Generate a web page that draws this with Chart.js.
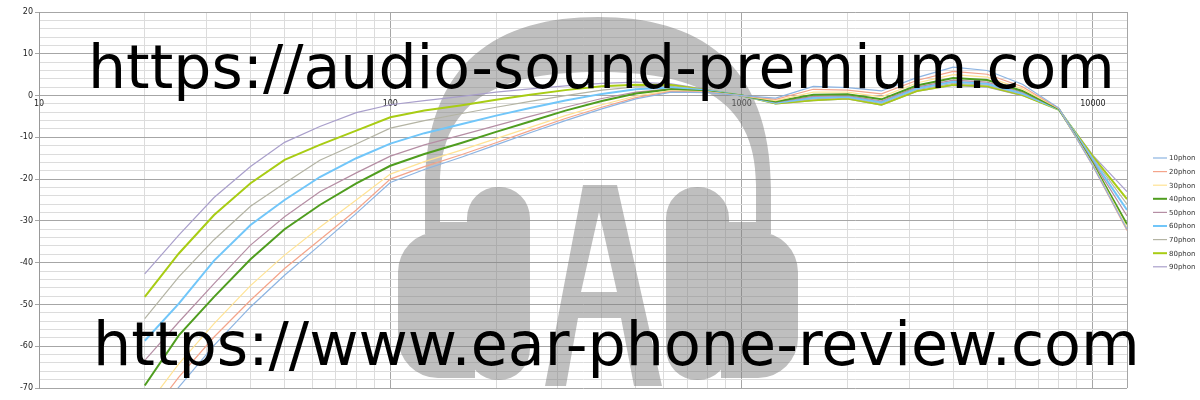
<!DOCTYPE html>
<html>
<head>
<meta charset="utf-8">
<title>phon curves</title>
<script src="https://cdn.jsdelivr.net/npm/chart.js@4.4.1/dist/chart.umd.min.js"></script>
<style>
  html, body { margin: 0; padding: 0; background: #ffffff; overflow: hidden; }
  canvas { display: block; }
</style>
</head>
<body>
<canvas id="chart" width="1200" height="400"></canvas>
<script>
// Fréquences (Hz), tiers d'octave
const frequencies = [20, 25, 31.5, 40, 50, 63, 80, 100, 125, 160, 200, 250, 315, 400, 500, 630, 800,
    1000, 1250, 1600, 2000, 2500, 3150, 4000, 5000, 6300, 8000, 10000, 12500];

// Valeurs (dB)
const phon10 = [-80.0, -69.8, -59.8, -50.6, -43.0, -35.8, -28.2, -20.8, -17.7, -14.7, -11.8, -8.9, -6.0, -3.2, -0.8, 0.8, 0.7,
    0.0, -0.6, 2.2, 1.9, 1.1, 4.3, 6.8, 6.0, 2.7, -3.0, -16.8, -32.0];
const phon20 = [-78.0, -67.4, -57.8, -49.0, -41.4, -34.5, -27.4, -20.0, -17.0, -14.1, -11.3, -8.4, -5.5, -2.8, -0.5, 1.0, 0.8,
    0.0, -0.9, 1.5, 1.3, 0.4, 3.6, 5.8, 5.1, 2.1, -3.1, -16.9, -32.3];
const phon30 = [-75.0, -64.2, -54.6, -45.5, -38.2, -31.5, -25.0, -18.8, -15.8, -13.0, -10.3, -7.6, -4.8, -2.2, -0.1, 1.2, 0.9,
    0.0, -1.2, 0.8, 0.8, -0.3, 3.0, 5.0, 4.4, 1.6, -3.1, -16.6, -31.6];
const phon40 = [-69.4, -57.4, -48.2, -39.2, -32.0, -26.2, -21.0, -16.8, -14.0, -11.3, -8.7, -6.2, -3.6, -1.3, 0.5, 1.5, 1.0,
    0.0, -1.4, 0.2, 0.3, -0.9, 2.4, 4.2, 3.7, 1.1, -3.2, -16.3, -30.8];
const phon50 = [-63.4, -54.2, -45.0, -35.8, -29.0, -23.0, -18.5, -14.5, -11.8, -9.4, -7.2, -5.0, -2.8, -0.7, 0.8, 1.6, 1.0,
    0.0, -1.6, -0.2, 0.0, -1.3, 2.0, 3.7, 3.2, 0.8, -3.2, -15.8, -28.8];
const phon60 = [-58.7, -49.8, -39.5, -31.0, -25.0, -19.5, -15.0, -11.5, -9.0, -6.8, -4.8, -3.0, -1.2, 0.4, 1.5, 1.9, 1.2,
    0.0, -1.7, -0.5, -0.3, -1.6, 1.7, 3.3, 2.8, 0.5, -3.3, -15.4, -27.4];
const phon70 = [-53.4, -43.4, -34.5, -26.5, -21.0, -15.5, -11.6, -7.8, -6.0, -4.3, -2.8, -1.4, 0.0, 1.3, 2.1, 2.2, 1.3,
    0.0, -1.8, -0.8, -0.5, -1.9, 1.4, 2.9, 2.5, 0.3, -3.3, -15.0, -26.0];
const phon80 = [-48.2, -37.8, -28.6, -21.0, -15.4, -11.8, -8.4, -5.2, -3.6, -2.3, -1.0, 0.2, 1.3, 2.2, 2.6, 2.5, 1.3,
    0.0, -1.9, -1.1, -0.7, -2.2, 1.1, 2.6, 2.2, 0.1, -3.4, -14.6, -24.8];
const phon90 = [-42.7, -33.4, -24.4, -17.0, -11.2, -7.4, -4.1, -2.2, -1.2, -0.2, 0.8, 1.6, 2.3, 2.9, 3.2, 2.8, 1.4,
    0.0, -2.0, -1.2, -0.8, -2.3, 1.0, 2.4, 2.0, 0.0, -3.4, -14.3, -23.0];

const seriesLabels = ['10phon', '20phon', '30phon', '40phon', '50phon', '60phon', '70phon', '80phon', '90phon'];

// Quadrillage et étiquettes des axes
const xGridValues = [10, 20, 30, 40, 50, 60, 70, 80, 90,
    100, 200, 300, 400, 500, 600, 700, 800, 900,
    1000, 2000, 3000, 4000, 5000, 6000, 7000, 8000, 9000,
    10000, 12500];
const xTickLabels = ['10', '100', '1000', '10000'];
const yTickLabels = ['20', '10', '0', '-10', '-20', '-30', '-40', '-50', '-60', '-70'];

const watermarkTop = 'https://audio-sound-premium.com';
const watermarkBottom = 'https://www.ear-phone-review.com';

const FONT = '"DejaVu Sans", "Liberation Sans", sans-serif';
const MAJOR_GRID = '#a6a6a6';
const MINOR_GRID = '#dcdcdc';

const seriesStyles = [
    { color: '#8db4e2', width: 1.2 },
    { color: '#f4a48a', width: 1.2 },
    { color: '#ffe394', width: 1.2 },
    { color: '#4f9d1f', width: 2 },
    { color: '#b58ea4', width: 1.2 },
    { color: '#71c6f9', width: 2 },
    { color: '#b4b4a4', width: 1.2 },
    { color: '#a8cc14', width: 2 },
    { color: '#a99fcb', width: 1.2 }
];

const seriesValues = [phon10, phon20, phon30, phon40, phon50, phon60, phon70, phon80, phon90];

/**
 * Rectangle arrondi (rayons: hg, hd, bd, bg)
 */
function roundedRect(ctx, x, y, w, h, r) {
    const [tl, tr, br, bl] = r;
    ctx.moveTo(x + tl, y);
    ctx.lineTo(x + w - tr, y);
    ctx.arcTo(x + w, y, x + w, y + tr, tr);
    ctx.lineTo(x + w, y + h - br);
    ctx.arcTo(x + w, y + h, x + w - br, y + h, br);
    ctx.lineTo(x + bl, y + h);
    ctx.arcTo(x, y + h, x, y + h - bl, bl);
    ctx.lineTo(x, y + tl);
    ctx.arcTo(x, y, x + tl, y, tl);
    ctx.closePath();
}

/**
 * Logo casque en filigrane (dessiné hors écran puis posé en transparence)
 */
function buildLogo() {
    const off = document.createElement('canvas');
    off.width = 1200;
    off.height = 400;
    const g = off.getContext('2d');
    g.fillStyle = '#808080';

    // Arceau
    g.beginPath();
    g.moveTo(425, 234);
    g.lineTo(425, 190);
    g.bezierCurveTo(425, 60, 500, 17, 598, 17);
    g.bezierCurveTo(696, 17, 771, 60, 771, 190);
    g.lineTo(771, 234);
    g.lineTo(756, 234);
    g.lineTo(756, 185);
    g.bezierCurveTo(756, 95, 690, 72, 598, 72);
    g.bezierCurveTo(506, 72, 440, 95, 440, 185);
    g.lineTo(440, 234);
    g.closePath();
    g.fill();

    // Oreillettes
    g.beginPath();
    roundedRect(g, 398, 232, 77, 146, [40, 0, 0, 40]);
    roundedRect(g, 467, 187, 63, 193, [31, 31, 31, 31]);
    g.rect(440, 222, 30, 12);
    roundedRect(g, 721, 232, 77, 146, [0, 40, 40, 0]);
    roundedRect(g, 666, 187, 63, 193, [31, 31, 31, 31]);
    g.rect(726, 222, 30, 12);
    g.fill();

    // Lettre A
    g.beginPath();
    g.moveTo(583, 185);
    g.lineTo(617, 185);
    g.lineTo(662, 386);
    g.lineTo(634, 386);
    g.lineTo(621, 318);
    g.lineTo(578, 318);
    g.lineTo(566, 386);
    g.lineTo(545, 386);
    g.closePath();
    g.moveTo(599, 212);
    g.lineTo(617, 292);
    g.lineTo(581, 292);
    g.closePath();
    g.fill('evenodd');
    return off;
}

const logoCanvas = buildLogo();

function drawFittedText(ctx, text, x, baseline, width) {
    ctx.font = '60px ' + FONT;
    const measured = ctx.measureText(text).width;
    const size = 60 * width / measured;
    ctx.font = size.toFixed(2) + 'px ' + FONT;
    ctx.fillText(text, x, baseline);
}

const watermarkPlugin = {
    id: 'watermark',
    beforeDatasetsDraw(chart) {
        const ctx = chart.ctx;
        ctx.save();
        ctx.globalAlpha = 0.5;
        ctx.drawImage(logoCanvas, 0, 0);
        ctx.restore();
    },
    afterDraw(chart) {
        const ctx = chart.ctx;
        ctx.save();

        // Légende à droite
        ctx.font = '7px ' + FONT;
        ctx.textBaseline = 'middle';
        ctx.textAlign = 'left';
        chart.data.datasets.forEach((ds, i) => {
            const y = 158 + i * 13.6;
            ctx.strokeStyle = ds.borderColor;
            ctx.lineWidth = ds.borderWidth;
            ctx.beginPath();
            ctx.moveTo(1153, y);
            ctx.lineTo(1167, y);
            ctx.stroke();
            ctx.fillStyle = '#333333';
            ctx.fillText(ds.label, 1169, y + 0.5);
        });

        // Textes en filigrane
        ctx.fillStyle = '#000000';
        ctx.textBaseline = 'alphabetic';
        drawFittedText(ctx, watermarkTop, 88, 88, 1027);
        drawFittedText(ctx, watermarkBottom, 93, 365, 1047);
        ctx.restore();
    }
};

function buildDatasets() {
    return seriesLabels.map((label, i) => ({
        label: label,
        data: frequencies.map((f, k) => ({ x: f, y: seriesValues[i][k] })),
        borderColor: seriesStyles[i].color,
        backgroundColor: seriesStyles[i].color,
        borderWidth: seriesStyles[i].width,
        pointRadius: 0,
        pointHoverRadius: 0,
        tension: 0,
        fill: false
    }));
}

Chart.defaults.font.family = FONT;

new Chart(document.getElementById('chart').getContext('2d'), {
    type: 'line',
    data: { datasets: buildDatasets() },
    options: {
        responsive: false,
        animation: false,
        devicePixelRatio: 1,
        layout: { padding: { top: 12, right: 73, bottom: 12, left: 0 } },
        plugins: {
            legend: { display: false },
            tooltip: { enabled: false }
        },
        scales: {
            x: {
                type: 'logarithmic',
                min: 10,
                max: 12500,
                position: { y: 0 },
                afterBuildTicks: function(scale) {
                    scale.ticks = xGridValues.map(v => ({ value: v }));
                },
                ticks: {
                    autoSkip: false,
                    maxRotation: 0,
                    minRotation: 0,
                    padding: 4,
                    color: '#222222',
                    font: { size: 8 },
                    callback: function(value) {
                        return xTickLabels.includes(String(value)) ? String(value) : '';
                    }
                },
                grid: {
                    drawTicks: false,
                    color: function(context) {
                        const v = context.tick ? context.tick.value : 0;
                        return (xTickLabels.includes(String(v)) || v === 12500) ? MAJOR_GRID : MINOR_GRID;
                    }
                },
                border: { color: MAJOR_GRID }
            },
            y: {
                min: -70,
                max: 20,
                afterFit: function(scale) {
                    scale.width = 39;
                },
                ticks: {
                    stepSize: 2,
                    autoSkip: false,
                    padding: 2,
                    color: '#222222',
                    font: { size: 8 },
                    callback: function(value) {
                        return yTickLabels.includes(String(value)) ? String(value) : '';
                    }
                },
                grid: {
                    tickLength: 4,
                    color: function(context) {
                        const v = context.tick ? context.tick.value : 0;
                        return yTickLabels.includes(String(v)) ? MAJOR_GRID : MINOR_GRID;
                    },
                    tickColor: function(context) {
                        const v = context.tick ? context.tick.value : 0;
                        return yTickLabels.includes(String(v)) ? MAJOR_GRID : 'rgba(0,0,0,0)';
                    }
                },
                border: { color: '#999999' }
            }
        }
    },
    plugins: [watermarkPlugin]
});
</script>
</body>
</html>
